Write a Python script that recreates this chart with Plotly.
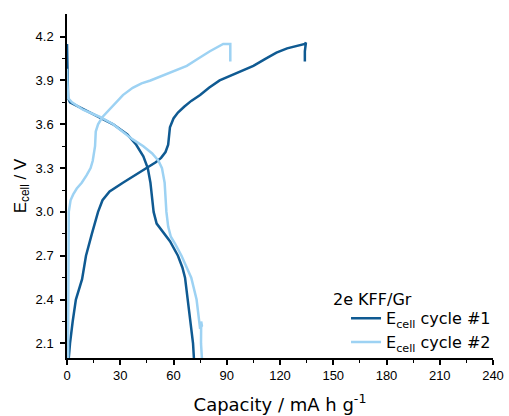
import plotly.graph_objects as go

# Cycle 1 (dark) - charge branch
c1_charge_cap = [1.0, 1.7, 3.2, 5, 8.5, 10.7, 14, 17.5, 20, 24, 31.5, 38, 45, 50, 53, 55.5, 57, 57.5, 58, 60, 62.5, 66, 70, 75, 80, 86, 95, 105, 112, 118, 124, 130, 134, 134.6, 134, 134]
c1_charge_v   = [2.0, 2.1, 2.25, 2.4, 2.54, 2.7, 2.85, 3.0, 3.08, 3.14, 3.2, 3.25, 3.3, 3.34, 3.37, 3.41, 3.46, 3.52, 3.58, 3.64, 3.68, 3.72, 3.76, 3.8, 3.85, 3.9, 3.95, 4.0, 4.05, 4.09, 4.12, 4.14, 4.15, 4.16, 4.1, 4.03]
# Cycle 1 (dark) - discharge branch
c1_dis_cap = [0, 0.3, 0.6, 1.7, 10, 18.6, 26, 34, 39, 43, 45.5, 47, 48, 48.8, 50.5, 54, 58, 62.5, 65, 66.5, 68, 69.8, 71, 71.5]
c1_dis_v   = [4.15, 3.95, 3.78, 3.75, 3.7, 3.65, 3.6, 3.53, 3.46, 3.38, 3.3, 3.2, 3.1, 3.0, 2.92, 2.86, 2.8, 2.7, 2.62, 2.55, 2.4, 2.25, 2.1, 2.0]

# Cycle 2 (light) - charge branch
c2_charge_cap = [0.6, 0.8, 1.0, 2.0, 3.5, 5.5, 8.3, 11, 13.3, 14.5, 15.3, 15.8, 16.2, 17.5, 20, 24, 28, 31.5, 37, 42, 47, 57, 67.5, 74, 80.5, 88, 92, 92, 92]
c2_charge_v   = [2.0, 2.6, 3.0, 3.08, 3.12, 3.16, 3.2, 3.25, 3.3, 3.35, 3.4, 3.45, 3.55, 3.6, 3.65, 3.7, 3.75, 3.8, 3.85, 3.88, 3.9, 3.95, 4.0, 4.05, 4.1, 4.15, 4.15, 4.1, 4.03]
# Cycle 2 (light) - discharge branch
c2_dis_cap = [0, 0.3, 0.6, 2.8, 9, 18.6, 26, 36.6, 43, 48, 51.5, 53.5, 55, 56, 57, 58.5, 61, 64.5, 70, 73, 75, 76, 75.6, 75.5, 76]
c2_dis_v   = [3.98, 3.85, 3.78, 3.75, 3.7, 3.65, 3.6, 3.5, 3.45, 3.4, 3.35, 3.3, 3.2, 3.0, 2.9, 2.83, 2.78, 2.7, 2.55, 2.4, 2.2, 2.22, 2.25, 2.1, 2.0]

x_ticks = [0, 30, 60, 90, 120, 150, 180, 210, 240]
x_minor = [15, 45, 75, 105, 135, 165, 195, 225]
y_ticks = [2.1, 2.4, 2.7, 3.0, 3.3, 3.6, 3.9, 4.2]
y_minor = [2.25, 2.55, 2.85, 3.15, 3.45, 3.75, 4.05]

dark = "#0f5a92"
light = "#9dd2f3"

fig = go.Figure()
fig.add_trace(go.Scatter(x=c1_charge_cap, y=c1_charge_v, mode="lines",
                         line=dict(color=dark, width=2.5),
                         name="E<sub>cell</sub> cycle #1", legendgroup="c1"))
fig.add_trace(go.Scatter(x=c1_dis_cap, y=c1_dis_v, mode="lines",
                         line=dict(color=dark, width=2.5),
                         showlegend=False, legendgroup="c1"))
fig.add_trace(go.Scatter(x=c2_charge_cap, y=c2_charge_v, mode="lines",
                         line=dict(color=light, width=2.5),
                         name="E<sub>cell</sub> cycle #2", legendgroup="c2"))
fig.add_trace(go.Scatter(x=c2_dis_cap, y=c2_dis_v, mode="lines",
                         line=dict(color=light, width=2.5),
                         showlegend=False, legendgroup="c2"))

axis_common = dict(showgrid=False, zeroline=False, showline=True, automargin=False,
                   linecolor="black", linewidth=1.5, ticks="outside",
                   ticklen=5, tickwidth=1.5, tickcolor="black",
                   tickfont=dict(family="Liberation Sans, Arial", size=13, color="black"))

fig.update_layout(
    width=509, height=416,
    margin=dict(l=67, r=16, t=14, b=58),
    paper_bgcolor="white", plot_bgcolor="white",
    xaxis=dict(range=[0, 240], tickvals=x_ticks, **axis_common,
               minor=dict(tickvals=x_minor, ticks="outside", ticklen=3, tickwidth=1.2, tickcolor="black"),
               title=dict(text="Capacity / mA h g<sup>-1</sup>",
                          font=dict(family="DejaVu Sans", size=18, color="black"),
                          standoff=16)),
    yaxis=dict(range=[2.0, 4.355], tickvals=y_ticks, tickformat=".1f", **axis_common,
               ticklabelstandoff=4,
               minor=dict(tickvals=y_minor, ticks="outside", ticklen=3, tickwidth=1.2, tickcolor="black"),
               title=dict(text="E<sub>cell</sub> / V",
                          font=dict(family="Liberation Sans, Arial", size=17, color="black"),
                          standoff=5)),
    legend=dict(x=0.655, y=0.165, xanchor="left", yanchor="top",
                bgcolor="rgba(0,0,0,0)",
                font=dict(family="DejaVu Sans", size=16, color="black"),
                tracegroupgap=0),
    showlegend=True,
    annotations=[dict(text="2e KFF/Gr", xref="paper", yref="paper",
                      x=0.62, y=(358 - 299) / 344, xanchor="left", yanchor="middle",
                      showarrow=False,
                      font=dict(family="DejaVu Sans", size=16, color="black"))],
)

fig.write_html("out.html")
